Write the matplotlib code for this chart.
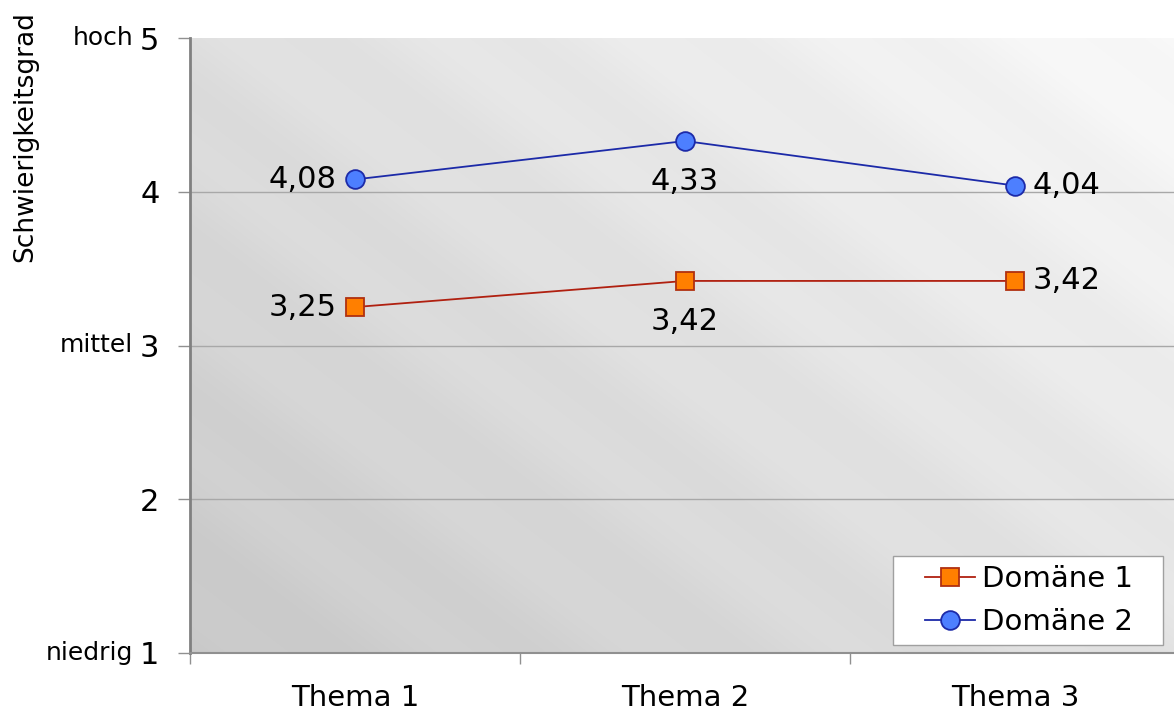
import numpy as np
import matplotlib
matplotlib.use("Agg")
import matplotlib.pyplot as plt
from matplotlib.patches import Rectangle
from matplotlib.transforms import blended_transform_factory

plt.rcParams['font.family'] = ['DejaVu Sans']

# Data
themes = ["Thema 1", "Thema 2", "Thema 3"]
domaene_1 = [3.25, 3.42, 3.42]
domaene_2 = [4.08, 4.33, 4.04]
series_names = ["Domäne 1", "Domäne 2"]
y_ticks = [1, 2, 3, 4, 5]
level_words = {5: "hoch", 3: "mittel", 1: "niedrig"}

fig = plt.figure(figsize=(11.74, 7.11), dpi=100)
ax = fig.add_axes([190 / 1174, 58 / 711, 990 / 1174, 615 / 711])

# Diagonal grey gradient background with soft banding
h, w = 400, 800
yy, xx = np.mgrid[0:h, 0:w]
t = (xx / w * 0.55 + (h - 1 - yy) / h * 0.45)
bands = 0.008 * np.sin(t * 2 * np.pi * 9)
val = 0.785 + 0.195 * t + bands
val = np.clip(val, 0, 1)
img = np.dstack([val, val, val])
ax.imshow(img, extent=[0, 1, 0, 1], transform=ax.transAxes, aspect='auto',
          origin='upper', zorder=0, interpolation='bilinear')

x = np.arange(len(themes)) + 0.5
ax.set_xlim(0, 3)
ax.set_ylim(1, 5)

# Horizontal gridlines
for yv in y_ticks[1:-1]:
    ax.axhline(yv, color='#a8a8a8', lw=1.0, zorder=1)

ax.plot(x, domaene_1, color='#b02010', lw=1.3, marker='s', markersize=13,
        markerfacecolor='#ff7f00', markeredgecolor='#b03010', markeredgewidth=1.3,
        label=series_names[0], zorder=3)
ax.plot(x, domaene_2, color='#1c2aa8', lw=1.3, marker='o', markersize=13.5,
        markerfacecolor='#4d7fff', markeredgecolor='#1c2aa8', markeredgewidth=1.3,
        label=series_names[1], zorder=3)

# Value labels
def fmt(v):
    return f"{v:.2f}".replace('.', ',')

placements = ["left", "below", "right"]
for series in (domaene_1, domaene_2):
    for pos, xi, yi in zip(placements, x, series):
        if pos == "left":
            ax.annotate(fmt(yi), (xi, yi), xytext=(-13, 0), textcoords='offset points',
                        ha='right', va='center', fontsize=22, zorder=4)
        elif pos == "right":
            ax.annotate(fmt(yi), (xi, yi), xytext=(13, 0), textcoords='offset points',
                        ha='left', va='center', fontsize=22, zorder=4)
        else:
            ax.annotate(fmt(yi), (xi, yi), xytext=(0, -29), textcoords='offset points',
                        ha='center', va='center', fontsize=22, zorder=4)

# Axes styling
for s in ['top', 'right']:
    ax.spines[s].set_visible(False)
ax.spines['left'].set_color('#808080')
ax.spines['left'].set_linewidth(2.0)
ax.spines['bottom'].set_color('#909090')
ax.spines['bottom'].set_linewidth(1.5)

ax.set_xticks([0, 1, 2, 3])
ax.set_xticklabels([])
ax.set_xticks(x, minor=True)
ax.set_xticklabels(themes, minor=True, fontsize=21)
ax.tick_params(axis='x', which='major', length=8, color='#909090', width=1)
ax.tick_params(axis='x', which='minor', length=0, pad=22)

ax.set_yticks(y_ticks)
ax.set_yticklabels([str(v) for v in y_ticks], fontsize=22)
ax.tick_params(axis='y', length=9, color='#909090', width=1, pad=13)

trans = blended_transform_factory(ax.transAxes, ax.transData)
for yv, word in level_words.items():
    ax.annotate(word, (0, yv), xycoords=trans, xytext=(-41, 0), textcoords='offset points',
                ha='right', va='center', fontsize=18)

fig.text(25 / 1174, 1 - 137 / 711, "Schwierigkeitsgrad", rotation=90,
         ha='center', va='center', fontsize=19)

# Legend box with wide inner margin
ax.add_patch(Rectangle((703 / 990, 8 / 615), 270 / 990, 89 / 615, transform=ax.transAxes,
                       facecolor='white', edgecolor='#a0a0a0', lw=1.0, zorder=5))
leg = ax.legend(loc='center left', bbox_to_anchor=(735 / 990, 52.5 / 615),
                fontsize=21, frameon=False, handlelength=1.7, borderpad=0,
                labelspacing=0.5, handletextpad=0.25, borderaxespad=0)
leg.set_zorder(6)

fig.savefig("out.png", dpi=100)
